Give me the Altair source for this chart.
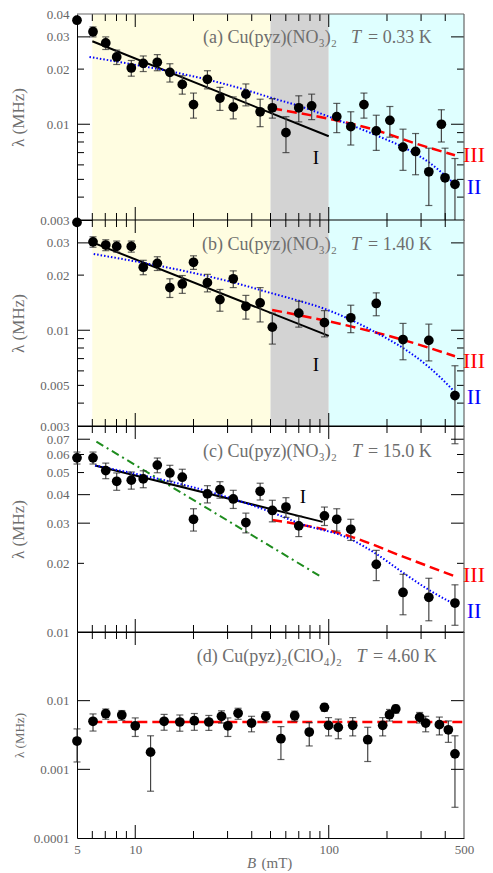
import altair as alt
import pandas as pd

W, H = 387, 206
FONT = "Liberation Serif"
LBL = "#666666"
TTL = "#6e6e6e"

# ---------------- panel (a) T = 0.33 K ----------------
a_B = [5.0, 6.05, 7.04, 8.02, 9.54, 11.0, 13.0, 15.1, 17.5, 20.0, 23.6, 27.4, 32.1, 37.3, 44.2,
       51.1, 60.1, 70.0, 81.6, 110, 130, 152, 176, 207, 242, 281, 329, 382, 399, 449]
a_lam = [0.037, 0.032, 0.0278, 0.0233, 0.0203, 0.0215, 0.0218, 0.0192, 0.0165, 0.0128, 0.0176,
         0.0139, 0.0124, 0.0146, 0.0117, 0.0123, 0.0090, 0.0123, 0.0126, 0.0110, 0.0097, 0.0128,
         0.0092, 0.0105, 0.0075, 0.0071, 0.0055, 0.0100, 0.0051, 0.0047]
a_err = [0, 0.002, 0.0022, 0.0021, 0.002, 0.0021, 0.0022, 0.0022, 0.0019, 0.002, 0.002, 0.002,
         0.0017, 0.002, 0.002, 0.0015, 0.002, 0.002, 0.002, 0.002, 0.002, 0.002, 0.002, 0.002,
         0.0019, 0.0018, 0.0019, 0.002, 0.0023, 0.0018]
a_I_B = [6, 100]
a_I_lam = [0.0284, 0.0086]
a_II_B = [5.8, 35, 51, 70, 110, 176, 242, 329, 449]
a_II_lam = [0.0233, 0.0157, 0.0139, 0.0126, 0.0106, 0.0087, 0.0075, 0.0062, 0.0047]
a_III_B = [51, 109, 176, 281, 449]
a_III_lam = [0.0122, 0.0105, 0.00927, 0.00785, 0.00677]

# ---------------- panel (b) T = 1.40 K ----------------
b_B = [5.0, 6.05, 7.04, 8.02, 9.54, 11.0, 13.0, 15.1, 17.5, 20.0, 23.6, 27.4, 32.1, 37.3, 44.2,
       51.1, 70.0, 95.0, 130, 176, 242, 329, 449]
b_lam = [0.0388, 0.0304, 0.0292, 0.0287, 0.0287, 0.0221, 0.0232, 0.0171, 0.0179, 0.0235, 0.0182,
         0.0147, 0.0191, 0.0135, 0.0141, 0.0104, 0.0124, 0.0110, 0.0117, 0.0140, 0.0089, 0.0088,
         0.0044]
b_err = [0, 0.002, 0.002, 0.002, 0.002, 0.002, 0.002, 0.002, 0.002, 0.002, 0.002, 0.002, 0.002,
         0.002, 0.003, 0.002, 0.002, 0.0018, 0.002, 0.002, 0.002, 0.002, 0.002]
b_I_B = [6, 100]
b_I_lam = [0.0302, 0.00932]
b_II_B = [6.1, 35, 51, 70, 95, 130, 176, 242, 329, 449]
b_II_lam = [0.0261, 0.0178, 0.0159, 0.0145, 0.0131, 0.0114, 0.0097, 0.0080, 0.0063, 0.0046]
b_III_B = [51, 130, 242, 449]
b_III_lam = [0.0129, 0.0105, 0.00886, 0.00721]

# ---------------- panel (c) T = 15.0 K ----------------
c_B = [5.0, 6.05, 7.04, 8.02, 9.54, 11.0, 13.0, 15.1, 17.5, 20.0, 23.6, 27.4, 32.1, 37.3, 44.2,
       51.1, 60.1, 70.0, 95.0, 110, 130, 176, 242, 329, 449]
c_lam = [0.058, 0.058, 0.051, 0.0458, 0.0463, 0.0469, 0.0539, 0.0498, 0.0477, 0.0312, 0.0403,
         0.0421, 0.0383, 0.0302, 0.0414, 0.0341, 0.0353, 0.0292, 0.0323, 0.0312, 0.0282, 0.0198,
         0.0149, 0.0142, 0.0134]
c_err = [0.0035, 0.0035, 0.004, 0.004, 0.004, 0.004, 0.004, 0.004, 0.004, 0.0035, 0.0035, 0.0035,
         0.0035, 0.003, 0.0035, 0.0037, 0.0035, 0.003, 0.003, 0.0035, 0.003, 0.003, 0.003, 0.003,
         0.0027]
c_I_B = [6.2, 93]
c_I_lam = [0.0537, 0.0304]
c_II_B = [6.2, 35, 51, 70, 130, 176, 242, 329, 449]
c_II_lam = [0.0537, 0.0374, 0.0334, 0.0300, 0.0255, 0.0220, 0.0182, 0.0153, 0.0132]
c_III_B = [51, 130, 242, 449]
c_III_lam = [0.031, 0.0262, 0.0214, 0.01754]
c_G_B = [6.3, 93]
c_G_lam = [0.0683, 0.0173]

# ---------------- panel (d) Cu(pyz)2(ClO4)2 T = 4.60 K ----------------
d_B = [5.0, 6.05, 7.04, 8.52, 10.0, 12.0, 14.1, 17.0, 20.2, 24.0, 27.9, 30.1, 34.0, 39.9, 47.3,
       56.6, 66.7, 79.3, 95.0, 99.8, 112, 133, 159, 190, 206, 222, 295, 317, 373, 415, 449]
d_lam = [0.00258, 0.00501, 0.00646, 0.00618, 0.00431, 0.00178, 0.00501, 0.00489, 0.0051, 0.00489,
         0.00592, 0.00431, 0.00655, 0.00472, 0.00592, 0.00279, 0.00604, 0.00349, 0.0080, 0.00437,
         0.00409, 0.00437, 0.0027, 0.00437, 0.00625, 0.00757, 0.00573, 0.00472, 0.00447, 0.00377,
         0.00168]
d_err = [0.0013, 0.0014, 0.0011, 0.001, 0.0013, 0.0013, 0.0013, 0.0013, 0.0014, 0.0012, 0.0012,
         0.0013, 0.0012, 0.0012, 0.001, 0.0014, 0.001, 0.0013, 0.001, 0.0013, 0.0013, 0.0013,
         0.0014, 0.0013, 0.0012, 0.001, 0.001, 0.0012, 0.0013, 0.0013, 0.0014]
d_III_B = [6, 490]
d_III_lam = [0.0049, 0.0049]

# ---------------- axes / ticks ----------------
band_lo = [6, 50, 100]
band_hi = [50, 100, 500]
band_col = ["#FFFDE1", "#D3D3D3", "#DFFFFF"]
x_labels = [5, 10, 100, 500]
x_major = [10, 100]
x_minor = [6, 7, 8, 9, 20, 30, 40, 50, 60, 70, 80, 90, 200, 300, 400]

xscale = alt.Scale(type="log", domain=[5, 500], nice=False)
ONE = pd.DataFrame({"k": [0]})


def txt(s, x, y, size, color, align="left", style="normal"):
    return alt.Chart(ONE).mark_text(text=s, font=FONT, fontSize=size, color=color, align=align,
                                    baseline="middle", fontStyle=style).encode(
        x=alt.value(x), y=alt.value(y))


def panel(B, lam, err, curves, ydom, ylabels, ymaj, ymin, title, tpos, bands=False,
          bottom=False, ytsize=17, romans=None, top_col="black"):
    yscale = alt.Scale(type="log", domain=ydom, nice=False)
    if bottom:
        xaxis = alt.Axis(values=x_labels, format="d", labelFont=FONT, labelFontSize=13,
                         labelColor=LBL, labelPadding=5, ticks=False, tickSize=0,
                         domainColor="black", labelFlush=False, title=None, grid=False)
    else:
        xaxis = alt.Axis(labels=False, ticks=False, tickSize=0, domainColor="black",
                         title=None, grid=False)
    yaxis = alt.Axis(values=ylabels, format="~g", labelFont=FONT, labelFontSize=13,
                     labelColor=LBL, labelPadding=8, ticks=False, tickSize=0,
                     domainColor="black", labelFlush=False, labelOverlap=False, grid=False,
                     title="λ (MHz)", titleFont=FONT, titleFontSize=ytsize, titleColor=TTL,
                     titleFontWeight="normal", titleX=-54, titleY=103, titleAngle=270,
                     titleBaseline="alphabetic", titleAlign="center")

    def X(f):
        return alt.X(f, type="quantitative", scale=xscale, axis=xaxis)

    def Y(f):
        return alt.Y(f, type="quantitative", scale=yscale, axis=yaxis)

    layers = []
    if bands:
        bdf = pd.DataFrame({"lo": band_lo, "hi": band_hi, "c": band_col})
        layers.append(alt.Chart(bdf).mark_rect().encode(
            x=X("lo"), x2="hi", y=alt.value(0), y2=alt.value(H),
            color=alt.Color("c:N", scale=None)))
    for cb, cl, color, dash, sw in curves:
        cdf = pd.DataFrame({"B": cb, "lam": cl})
        m = dict(color=color, strokeWidth=sw, interpolate="monotone")
        if dash:
            m["strokeDash"] = dash
        layers.append(alt.Chart(cdf).mark_line(**m).encode(x=X("B"), y=Y("lam")))

    df = pd.DataFrame({"B": B, "lam": lam, "err": err})
    df["lo"] = df["lam"] - df["err"]
    df["hi"] = df["lam"] + df["err"]
    edf = df[df["err"] > 0]
    layers.append(alt.Chart(edf).mark_rule(color="#444444", strokeWidth=1.2).encode(
        x=X("B"), y=Y("lo"), y2="hi"))
    for f in ["lo", "hi"]:
        layers.append(alt.Chart(edf).mark_tick(orient="horizontal", size=7, thickness=1.2,
                                               color="#222222").encode(x=X("B"), y=Y(f)))
    layers.append(alt.Chart(df).mark_circle(size=95, color="black", opacity=1).encode(
        x=X("B"), y=Y("lam")))

    # inward ticks
    for vals, ln in [(x_major, 13), (x_minor, 7)]:
        tdf = pd.DataFrame({"v": vals})
        layers.append(alt.Chart(tdf).mark_rule(color="black").encode(
            x=X("v"), y=alt.value(H), y2=alt.value(H - ln)))
        layers.append(alt.Chart(tdf).mark_rule(color="black").encode(
            x=X("v"), y=alt.value(0), y2=alt.value(ln)))
    for vals, ln in [(ymaj, 13), (ymin, 7)]:
        if not vals:
            continue
        tdf = pd.DataFrame({"v": vals})
        layers.append(alt.Chart(tdf).mark_rule(color="black").encode(
            y=Y("v"), x=alt.value(0), x2=alt.value(ln)))
        layers.append(alt.Chart(tdf).mark_rule(color="black").encode(
            y=Y("v"), x=alt.value(W), x2=alt.value(W - ln)))
    # borders top / right
    layers.append(alt.Chart(ONE).mark_rule(color=top_col, strokeWidth=1.2).encode(
        x=alt.value(0), x2=alt.value(W), y=alt.value(0)))
    layers.append(alt.Chart(ONE).mark_rule(color="#666666", strokeWidth=1.2).encode(
        x=alt.value(W), y=alt.value(0), y2=alt.value(H)))

    # title
    p1, p2 = title
    x1, xt, x2, ty = tpos
    layers.append(txt(p1, x1, ty, 18, TTL, align="right"))
    layers.append(txt("T", xt, ty, 18, TTL, align="center", style="italic"))
    layers.append(txt(p2, x2, ty, 18, TTL))
    if romans:
        (ix, iy), yIII, yII = romans
        layers.append(txt("I", ix, iy, 19, "black", align="center"))
        layers.append(txt("III", 397, yIII, 22, "#FF0000", align="center"))
        layers.append(txt("II", 397, yII, 22, "#0000FF", align="center"))
    if bottom:
        layers.append(txt("B", 174.7, 231, 15, TTL, align="center", style="italic"))
        layers.append(txt("(mT)", 184.5, 231, 15, TTL))
    return alt.layer(*layers).properties(width=W, height=H)


def curv(b, l, c, d, w):
    return (b, l, c, d, w)


pa = panel(a_B, a_lam, a_err,
           [curv(a_I_B, a_I_lam, "black", None, 2),
            curv(a_III_B, a_III_lam, "#FF0000", [10, 5], 2.5),
            curv(a_II_B, a_II_lam, "#0000FF", [1.5, 2], 2)],
           [0.003, 0.04], [0.003, 0.01, 0.02, 0.03, 0.04], [0.01, 0.03],
           [0.004, 0.005, 0.006, 0.007, 0.008, 0.009, 0.02],
           ("(a) Cu(pyz)(NO₃)₂", "= 0.33 K"), (260, 279, 291, 24), bands=True,
           romans=((239, 144), 140.7, 173), top_col="#666666")

pb = panel(b_B, b_lam, b_err,
           [curv(b_I_B, b_I_lam, "black", None, 2),
            curv(b_III_B, b_III_lam, "#FF0000", [10, 5], 2.5),
            curv(b_II_B, b_II_lam, "#0000FF", [1.5, 2], 2)],
           [0.003, 0.04], [0.003, 0.005, 0.01, 0.02, 0.03], [0.01, 0.03],
           [0.004, 0.005, 0.006, 0.007, 0.008, 0.009, 0.02],
           ("(b) Cu(pyz)(NO₃)₂", "= 1.40 K"), (260, 279, 291, 25), bands=True,
           romans=((239, 144.7), 141.3, 177))

pc = panel(c_B, c_lam, c_err,
           [curv(c_G_B, c_G_lam, "#1E8C1E", [8, 4, 2, 4], 2),
            curv(c_I_B, c_I_lam, "black", None, 2),
            curv(c_III_B, c_III_lam, "#FF0000", [10, 5], 2.5),
            curv(c_II_B, c_II_lam, "#0000FF", [1.5, 2], 2)],
           [0.01, 0.08], [0.01, 0.02, 0.03, 0.04, 0.05, 0.06, 0.07], [0.03, 0.04, 0.07],
           [0.02, 0.05, 0.06],
           ("(c) Cu(pyz)(NO₃)₂", "= 15.0 K"), (260, 280, 291, 26),
           romans=((226, 71), 148.7, 185.3))

pd_ = panel(d_B, d_lam, d_err,
            [curv(d_III_B, d_III_lam, "#FF0000", [10, 5], 2.5)],
            [0.0001, 0.1], [0.0001, 0.001, 0.01], [0.001, 0.01], [],
            ("(d) Cu(pyz)₂(ClO₄)₂", "= 4.60 K"), (265, 284.5, 296, 25),
            bottom=True, ytsize=13)

chart = alt.vconcat(pa, pb, pc, pd_, spacing=0, bounds="flush").resolve_scale(
    y="independent").properties(
    padding={"left": 1, "top": 0, "right": 0, "bottom": 0}, background="white"
).configure_view(stroke=None).configure_axis(grid=False)

chart.save("out.html", embed_options={"renderer": "svg", "actions": False})
